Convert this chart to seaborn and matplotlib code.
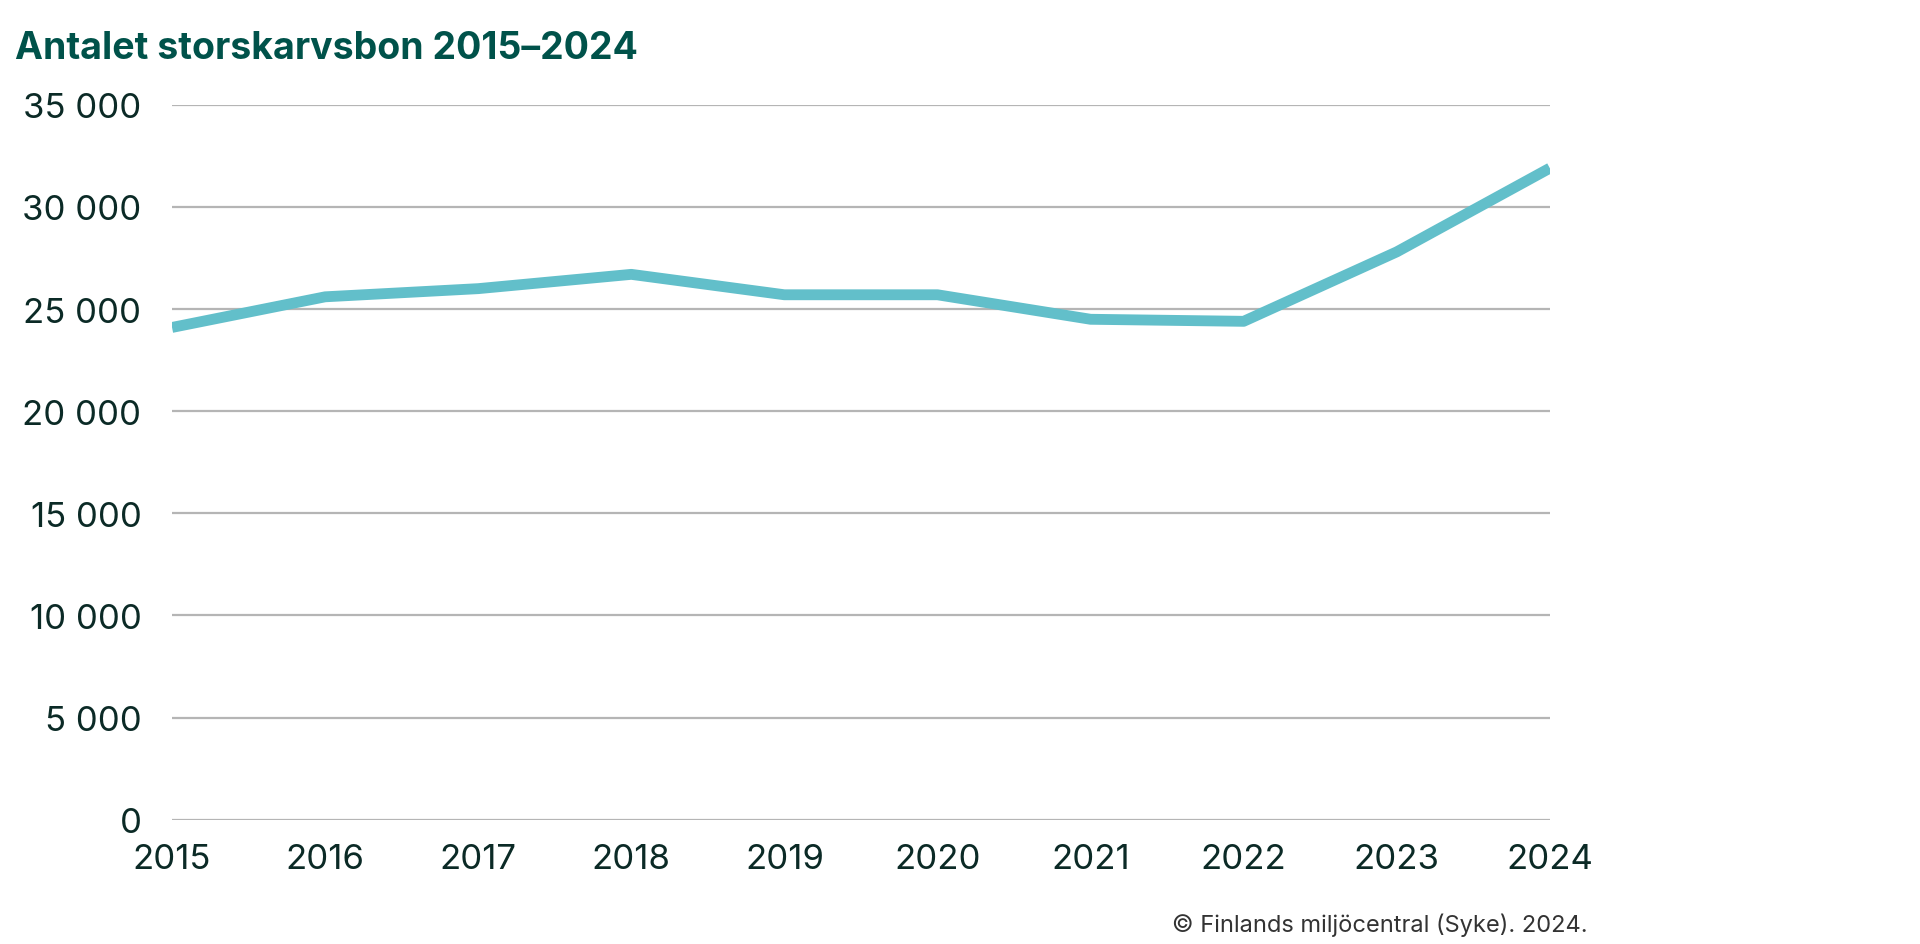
import numpy as np
import pandas as pd
import matplotlib
matplotlib.use("Agg")
import matplotlib.pyplot as plt
from matplotlib.ticker import FuncFormatter
import seaborn as sns

# ==========================================
# Data
# ==========================================

years = [2015, 2016, 2017, 2018, 2019, 2020, 2021, 2022, 2023, 2024]
nests = [24100, 25600, 26000, 26700, 25700, 25700, 24500, 24400, 27800, 31900]
y_ticks = [0, 5000, 10000, 15000, 20000, 25000, 30000, 35000]

title = "Antalet storskarvsbon 2015–2024"
source = "© Finlands miljöcentral (Syke). 2024."

LINE_COLOR = "#62bfca"
TITLE_COLOR = "#00524a"
TEXT_COLOR = "#0b2a26"

# ==========================================
# Plot
# ==========================================

sns.set_theme(style="white")
plt.rcParams['font.family'] = ['Inter', 'DejaVu Sans']

df = pd.DataFrame({"year": years, "nests": nests})

fig = plt.figure(figsize=(19.2, 9.45), dpi=100)
ax = fig.add_axes([0.0896, 0.1316, 0.7176, 0.7564])

for t in y_ticks:
    ax.axhline(t, color="#b5b5b5", lw=1.6, zorder=1)

sns.lineplot(data=df, x="year", y="nests", ax=ax, color=LINE_COLOR,
             lw=7.8, solid_capstyle="butt", zorder=3)

ax.set_xlim(years[0], years[-1])
ax.set_ylim(0, 35000)
ax.set_xticks(years)
ax.set_yticks(y_ticks)
ax.yaxis.set_major_formatter(FuncFormatter(lambda v, p: f"{int(v):,}".replace(",", " ")))
ax.set_xlabel("")
ax.set_ylabel("")
for s in ax.spines.values():
    s.set_visible(False)
ax.tick_params(axis="y", length=0, pad=22, labelsize=25, labelcolor=TEXT_COLOR)
ax.tick_params(axis="x", length=0, pad=17, labelsize=25, labelcolor=TEXT_COLOR)
ax.grid(False)

fig.text(0.008, 0.948, title, fontsize=27, fontweight="bold", color=TITLE_COLOR,
         ha="left", va="center")
fig.text(0.827, 0.021, source, fontsize=17, color="#333333", ha="right", va="center")

fig.savefig("out.png", dpi=100)
